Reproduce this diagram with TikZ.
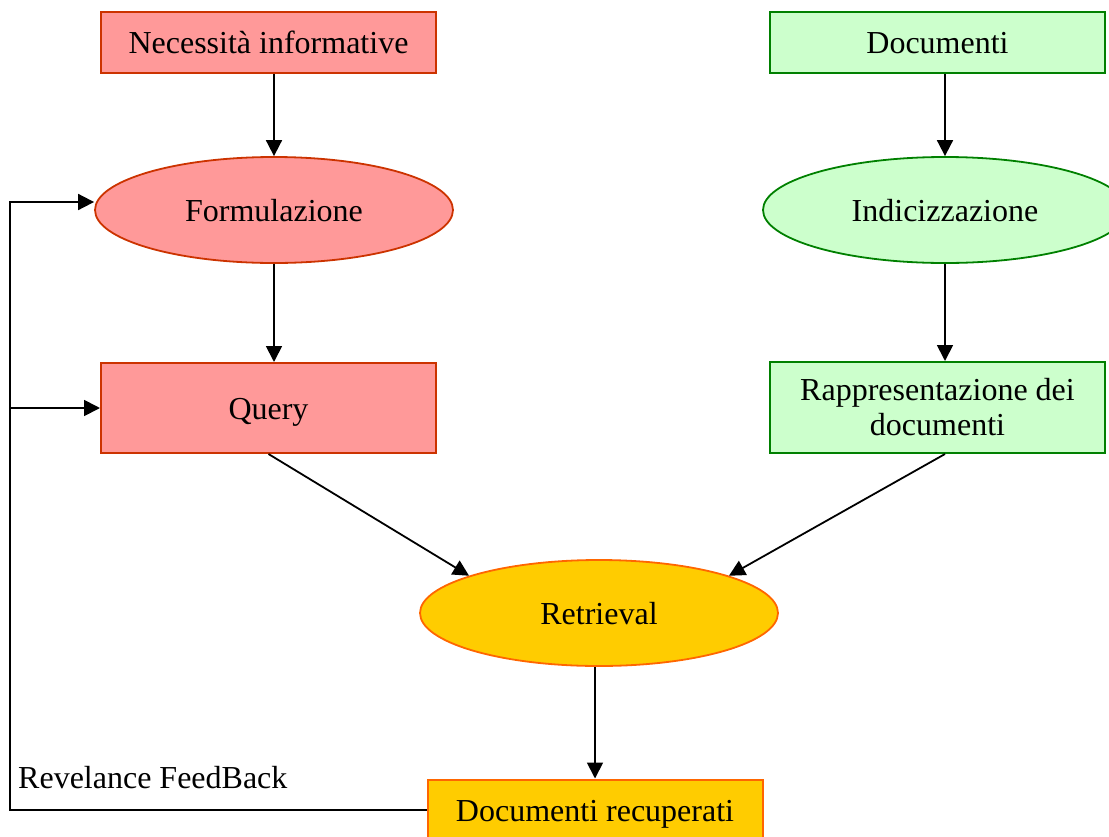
\documentclass[tikz,border=0pt]{standalone}
\usepackage{fontspec}
\setmainfont{Liberation Serif}
\usetikzlibrary{arrows.meta,shapes.geometric}

\definecolor{redfill}{HTML}{FF9999}
\definecolor{redline}{HTML}{CC3300}
\definecolor{greenfill}{HTML}{CCFFCC}
\definecolor{greenline}{HTML}{008000}
\definecolor{goldfill}{HTML}{FFCC00}
\definecolor{goldline}{HTML}{FF6600}

\begin{document}
\begin{tikzpicture}[x=1pt,y=-1pt,
  lbl/.style={font=\fontsize{32}{35}\selectfont},
  box/.style={lbl, rectangle, draw, line width=2pt, inner sep=0pt,
    minimum width=335pt, align=center},
  oneline/.style={text height=22pt, text depth=0pt},
  oval/.style={lbl, ellipse, draw, line width=1.8pt, inner sep=0pt,
    minimum height=106pt, oneline},
  redstyle/.style={fill=redfill, draw=redline},
  greenstyle/.style={fill=greenfill, draw=greenline},
  goldstyle/.style={fill=goldfill, draw=goldline},
  arr/.style={line width=1.8pt, -{Triangle[length=16pt,width=16pt]}}]
\useasboundingbox (0,0) rectangle (1109,836);
\clip (0,0) rectangle (1109,836);

% user side
\node[box, oneline, redstyle, minimum height=61pt] (need) at (268.5,42.5) {Necessità informative};
\node[oval, redstyle, minimum width=358pt] (form) at (274,210) {Formulazione};
\node[box, oneline, redstyle, minimum height=90pt] (query) at (268.5,408) {Query};

% document side
\node[box, oneline, greenstyle, minimum height=61pt] (doc) at (937.5,42.5) {Documenti};
\node[oval, greenstyle, minimum width=364pt] (index) at (945,210) {Indicizzazione};
\node[box, greenstyle, minimum height=91pt] (rep) at (937.5,407.5) {Rappresentazione dei\\documenti};

% matching and results
\node[oval, goldstyle, minimum width=358pt] (ret) at (599,613) {Retrieval};
\node[box, oneline, goldstyle, minimum height=61pt] (rec) at (595,810) {Documenti recuperati};

% main flow
\draw[arr] (need.south -| form.north) -- (form.north);
\draw[arr] (form.south) -- (query.north -| form.south);
\draw[arr] (doc.south -| index.north) -- (index.north);
\draw[arr] (index.south) -- (rep.north -| index.south);
\draw[arr] (query.south) -- (ret.164);
\draw[arr] (rep.south -| index.south) -- (ret.16);
\draw[arr] (ret.south -| rec.north) -- (rec.north);

% relevance feedback loop
\coordinate (fbl) at (10,0);
\coordinate (ftarget) at ([yshift=8pt]form.west);
\draw[arr] (rec.west) -| (fbl |- ftarget) -- (ftarget);
\draw[arr] (fbl |- query.west) -- (query.west);
\node[lbl, anchor=base west, inner sep=0pt] (fbtext) at (18,788) {Revelance FeedBack};
\end{tikzpicture}
\end{document}
